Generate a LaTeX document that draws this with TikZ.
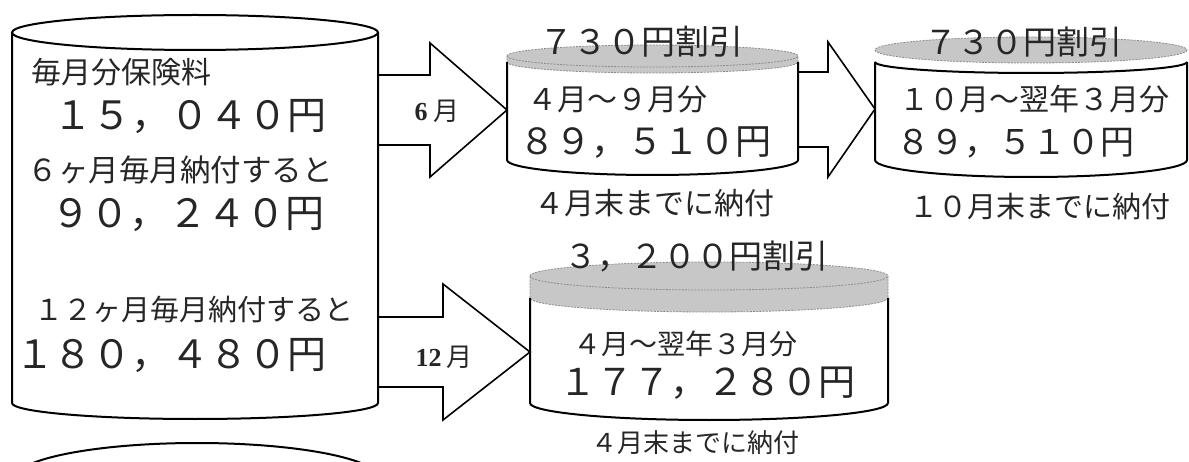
\documentclass[tikz,border=0pt]{standalone}
\usepackage{fontspec}
\setmainfont{Noto Sans CJK JP}
\newfontfamily\romanfont{Liberation Serif}

\begin{document}
\begin{tikzpicture}[x=1pt,y=-1pt,
  body/.style={line width=2pt, line join=round},
  lid/.style={fill=black!22, draw=black!45, line width=0.8pt, dash pattern=on 2pt off 1.2pt},
  blockarrow/.style={draw, line width=1.6pt, line join=miter},
  txt/.style={inner sep=0pt, text=black!85}]
\clip (0,0) rectangle (1189,462);

% big cylinder
\draw [body] (12,32) -- (12,403) arc [start angle=180, end angle=0, x radius=183, y radius=16] -- (378,32);
\draw [body] (195,32.5) ellipse [x radius=183, y radius=17.5];
\draw [body] (197,479) ellipse [x radius=183, y radius=36];

% arrows
\draw [blockarrow] (378,75) -- (430,75) -- (430,43) -- (507,110) -- (430,177) -- (430,145) -- (378,145);
\draw [blockarrow] (798,72) -- (828,72) -- (828,42) -- (875,109) -- (828,177) -- (828,147) -- (798,147);
\draw [blockarrow] (378,317) -- (443,317) -- (443,284) -- (530,352) -- (443,420) -- (443,387) -- (378,387);

% 6 month cylinder
\draw [lid] (507,56) arc [start angle=180, end angle=360, x radius=145.5, y radius=11] -- (798,62)
  arc [start angle=0, end angle=180, x radius=145.5, y radius=11] -- cycle;
\draw [lid, fill=none] (507,56) arc [start angle=180, end angle=0, x radius=145.5, y radius=11];
\draw [body] (507,62) -- (507,160) arc [start angle=180, end angle=0, x radius=145.5, y radius=15] -- (798,62);

% next 6 month cylinder
\draw [lid] (1031,50) ellipse [x radius=156, y radius=13];
\draw [body] (875,62) -- (875,160) arc [start angle=180, end angle=0, x radius=156, y radius=17] -- (1187,62);
\draw [body] (875,62) arc [start angle=180, end angle=0, x radius=156, y radius=11];

% 12 month cylinder
\draw [lid] (530,276) arc [start angle=180, end angle=360, x radius=179, y radius=14] -- (888,298)
  arc [start angle=0, end angle=180, x radius=179, y radius=14] -- cycle;
\draw [lid, fill=none] (530,276) arc [start angle=180, end angle=0, x radius=179, y radius=14];
\draw [body] (530,298) -- (530,403) arc [start angle=180, end angle=0, x radius=179, y radius=17] -- (888,298);

% texts
\node [txt] (monthly) at (121,72) {\fontsize{30}{30}\selectfont 毎月分保険料};
\node [txt] (monthlysum) at (190,117) {\fontsize{39}{39}\selectfont １５，０４０円};
\node [txt] (sixpay) at (180,170) {\fontsize{30.5}{30}\selectfont ６ヶ月毎月納付すると};
\node [txt] (sixsum) at (188,215) {\fontsize{39}{39}\selectfont ９０，２４０円};
\node [txt] (twelvepay) at (194,310) {\fontsize{29}{29}\selectfont １２ヶ月毎月納付すると};
\node [txt] (twelvesum) at (171,356) {\fontsize{39}{39}\selectfont １８０，４８０円};

\node [txt] (sixlabel) at (437,111) {\fontsize{26}{26}\selectfont{\romanfont\bfseries 6}\hspace{6pt}月};
\node [txt] (twelvelabel) at (444,357) {\fontsize{26}{26}\selectfont{\romanfont\bfseries 12}\hspace{5pt}月};

\node [txt] (firstoff) at (641,42) {\fontsize{34}{34}\selectfont ７３０円割引};
\node [txt] (firstterm) at (617,99) {\fontsize{30}{30}\selectfont ４月～９月分};
\node [txt] (firstsum) at (645,143) {\fontsize{36}{36}\selectfont ８９，５１０円};
\node [txt] (firstdue) at (654,203) {\fontsize{30}{30}\selectfont ４月末までに納付};

\node [txt] (secondoff) at (1023,42) {\fontsize{33}{33}\selectfont ７３０円割引};
\node [txt] (secondterm) at (1034,99) {\fontsize{30}{30}\selectfont １０月～翌年３月分};
\node [txt] (secondsum) at (1015,143) {\fontsize{34}{34}\selectfont ８９，５１０円};
\node [txt] (seconddue) at (1040,206) {\fontsize{29}{29}\selectfont １０月末までに納付};

\node [txt] (yearoff) at (696,256) {\fontsize{33}{33}\selectfont ３，２００円割引};
\node [txt] (yearterm) at (685,344) {\fontsize{28}{28}\selectfont ４月～翌年３月分};
\node [txt] (yearsum) at (707,383) {\fontsize{37}{37}\selectfont １７７，２８０円};
\node [txt] (yeardue) at (695,443) {\fontsize{26}{26}\selectfont ４月末までに納付};
\end{tikzpicture}
\end{document}
